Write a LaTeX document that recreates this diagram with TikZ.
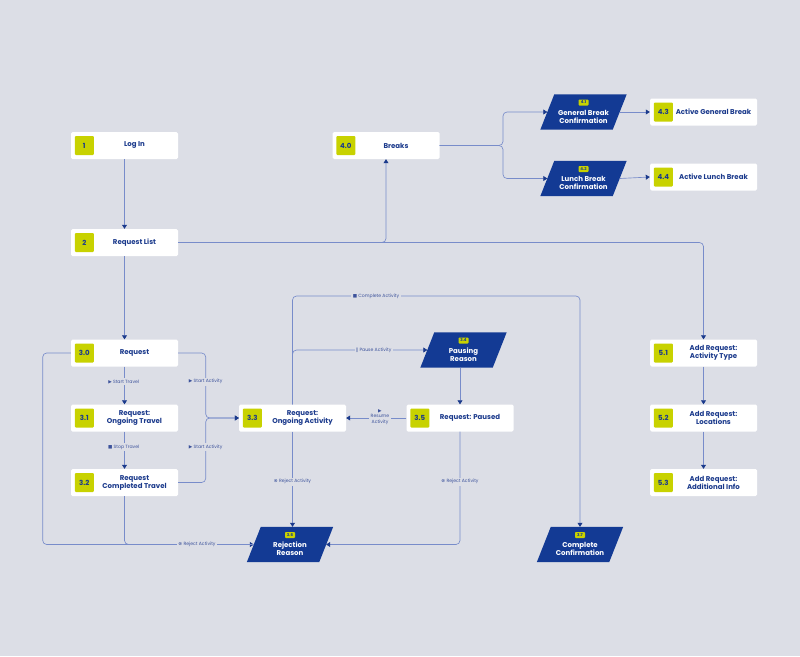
\documentclass[tikz,border=0pt]{standalone}
\usepackage{fontspec}
\setmainfont{Poppins}
\newfontfamily\symf{DejaVu Sans}
\usetikzlibrary{arrows.meta}
\definecolor{bgc}{RGB}{220,222,230}
\definecolor{navy}{RGB}{27,58,140}
\definecolor{labc}{RGB}{60,82,155}
\definecolor{paraf}{RGB}{19,58,148}
\definecolor{linec}{RGB}{120,140,202}
\definecolor{lime}{RGB}{200,210,0}
\newcommand\icplay{{\symf ▶}}
\newcommand\icstop{{\symf ■}}
\newcommand\icrej{{\symf ⊗}}
\newcommand\icpause{{\symf ‖}}
\tikzset{
  box/.style={fill=white, rounded corners=1.5pt, minimum width=107pt, minimum height=27pt, inner sep=0pt},
  badge/.style={fill=lime, rounded corners=1pt, minimum size=19pt, inner sep=0pt, font=\bfseries\fontsize{7}{8}\selectfont, text=navy},
  boxtext/.style={font=\bfseries\fontsize{7}{8}\selectfont, text=navy, align=center, inner sep=0pt},
  para/.style={minimum width=72pt, minimum height=35pt, inner sep=0pt},
  pbadge/.style={fill=lime, rounded corners=0.8pt, minimum width=10pt, minimum height=6pt, inner sep=0.5pt, font=\bfseries\fontsize{4}{4}\selectfont, text=navy},
  ptext/.style={font=\bfseries\fontsize{7}{8}\selectfont, text=white, align=center, inner sep=0pt},
  conn/.style={draw=linec, line width=0.65pt, rounded corners=4pt},
  arr/.style={conn, -{Triangle[width=5pt,length=4pt,color=navy]}},
  elabel/.style={fill=bgc, inner sep=1.5pt, font=\fontsize{4.6}{5.2}\selectfont, text=labc, align=center}
}
\newcommand\mkbox[4]{%
  \node[box] (#1) at (#2) {};
  \node[badge] (#1b) at ([xshift=13.5pt]#1.west) {#3};
  \node[boxtext] (#1t) at ([xshift=10pt]#1.center) {#4};}
\newcommand\mkpara[4]{%
  \node[para] (#1) at (#2) {};
  \fill[paraf] ([xshift=7pt]#1.north west) -- ([xshift=7pt]#1.north east) -- ([xshift=-7pt]#1.south east) -- ([xshift=-7pt]#1.south west) -- cycle;
  \node[pbadge] (#1b) at ([yshift=9.5pt]#1.center) {#3};
  \node[ptext] (#1t) at ([yshift=-4.5pt]#1.center) {#4};}
\begin{document}
\begin{tikzpicture}[x=1pt,y=-1pt]
\fill[bgc] (0,0) rectangle (800,656);
\useasboundingbox (0,0) rectangle (800,656);

% nodes
\mkbox{n1}{124.5,145.5}{1}{Log In}
\mkbox{n2}{124.5,242.5}{2}{Request List}
\mkbox{n40}{386,145.5}{4.0}{Breaks}
\mkpara{n41}{583.5,112}{4.1}{General Break\\Confirmation}
\mkpara{n42}{583.5,178.5}{4.2}{Lunch Break\\Confirmation}
\mkbox{n43}{703.5,112}{4.3}{Active General Break}
\mkbox{n44}{703.5,177}{4.4}{Active Lunch Break}
\mkbox{n30}{124.5,353}{3.0}{Request}
\mkbox{n31}{124.5,418}{3.1}{Request:\\Ongoing Travel}
\mkbox{n32}{124.5,482.5}{3.2}{Request\\Completed Travel}
\mkbox{n33}{292.5,418}{3.3}{Request:\\Ongoing Activity}
\mkbox{n35}{460,418}{3.5}{Request: Paused}
\mkpara{n34}{463.5,350}{3.4}{Pausing\\Reason}
\mkpara{n36}{290,544.5}{3.6}{Rejection\\Reason}
\mkpara{n37}{580,544.5}{3.7}{Complete\\Confirmation}
\mkbox{n51}{703.5,353}{5.1}{Add Request:\\Activity Type}
\mkbox{n52}{703.5,418}{5.2}{Add Request:\\Locations}
\mkbox{n53}{703.5,482.5}{5.3}{Add Request:\\Additional Info}

% helper coordinates
\coordinate (bs) at (503,145.5);
\coordinate (sa) at (205.7,418);
\coordinate (rj) at (42.7,544.5);
\coordinate (ct) at (292.5,296);

% connectors
\draw[arr] (n1.south) -- (n2.north);
\draw[arr] (n2.south) -- (n30.north);
\draw[arr] (n2.east) -| (n40.south);
\draw[arr] (n2.east) -| (n51.north);
\draw[arr] (n40.east) -- (bs) |- (n41.west);
\draw[arr] (n40.east) -- (bs) |- (n42.west);
\draw[arr] (n41.east) -- (n43.west);
\draw[arr] (n42.east) -- (n44.west);
\draw[arr] (n30.south) -- (n31.north);
\draw[arr] (n31.south) -- (n32.north);
\draw[arr] (n30.east) -| (sa) -- (n33.west);
\draw[arr] (n32.east) -| (sa) -- (n33.west);
\draw[arr] (n30.west) -| (rj) -- (n36.west);
\draw[conn] (n32.south) |- (n36.west);
\draw[arr] (n33.south) -- (n33.south |- n36.north);
\draw[arr] (n35.south) |- (n36.east);
\draw[arr] (n35.west) -- (n33.east);
\draw[arr] (n33.north) |- (n34.west);
\draw[arr] (n33.north) -- (ct) -| (n37.north);
\draw[arr] (n35.north |- n34.south) -- (n35.north);
\draw[arr] (n51.south) -- (n52.north);
\draw[arr] (n52.south) -- (n53.north);

% edge labels
\node[elabel] (l1) at (123.7,381.7) {\icplay\ Start Travel};
\node[elabel] (l2) at (123.7,447) {\icstop\ Stop Travel};
\node[elabel] (l3) at (205.7,381.7) {\icplay\ Start Activity};
\node[elabel] (l4) at (205.7,447) {\icplay\ Start Activity};
\node[elabel] (l5) at (197,544.5) {\icrej\ Reject Activity};
\node[elabel] (l6) at (292.5,481.7) {\icrej\ Reject Activity};
\node[elabel] (l7) at (460,481.7) {\icrej\ Reject Activity};
\node[elabel] (l8) at (380,417) {\icplay\\Resume\\Activity};
\node[elabel] (l9) at (373.7,350) {\icpause\ Pause Activity};
\node[elabel] (l10) at (376,296) {\icstop\ Complete Activity};
\end{tikzpicture}
\end{document}
